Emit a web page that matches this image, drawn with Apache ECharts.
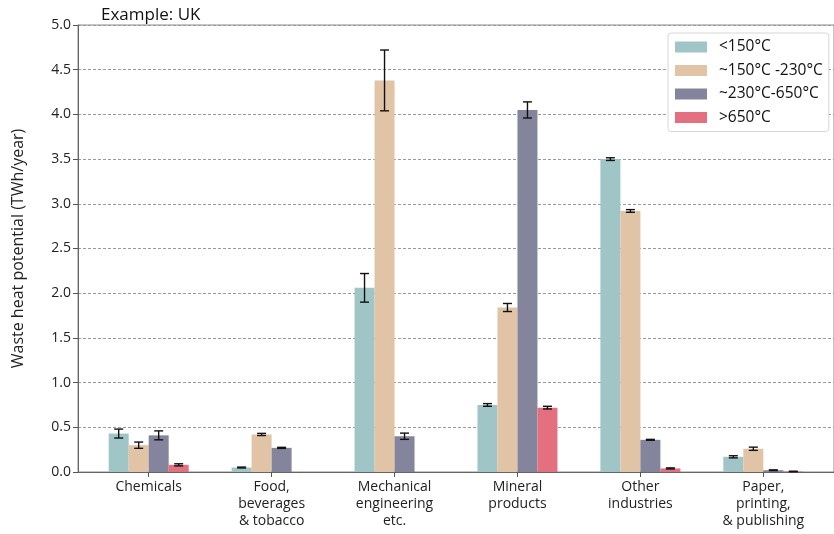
<!DOCTYPE html>
<html><head><meta charset="utf-8">
<script src="https://cdn.jsdelivr.net/npm/echarts@6/dist/echarts.min.js"></script>
<style>html,body{margin:0;padding:0;background:#fff}#c{width:834px;height:534px}</style>
</head><body><div id="c"></div>
<script>
const categories = ['Chemicals', 'Food,\nbeverages\n& tobacco', 'Mechanical\nengineering\netc.', 'Mineral\nproducts', 'Other\nindustries', 'Paper,\nprinting,\n& publishing'];
const seriesNames = ['<150°C', '~150°C -230°C', '~230°C-650°C', '>650°C'];
const below150 = [0.43, 0.05, 2.06, 0.75, 3.50, 0.17];
const mid150_230 = [0.30, 0.42, 4.38, 1.84, 2.92, 0.26];
const mid230_650 = [0.41, 0.27, 0.40, 4.05, 0.36, 0.02];
const above650 = [0.08, 0, 0, 0.72, 0.04, 0.006];
const err150 = [0.05, 0.005, 0.16, 0.015, 0.015, 0.012];
const err150_230 = [0.035, 0.012, 0.34, 0.045, 0.015, 0.018];
const err230_650 = [0.05, 0.006, 0.035, 0.09, 0.005, 0.004];
const err650 = [0.012, 0, 0, 0.015, 0.006, 0.003];
const yTicks = [0, 0.5, 1, 1.5, 2, 2.5, 3, 3.5, 4, 4.5, 5];

const colors = ['#a0c5c7', '#e0c4a5', '#85849d', '#e36f7f'];
const values = [below150, mid150_230, mid230_650, above650];
const errs = [err150, err150_230, err230_650, err650];
const BAR_W = 20;

const chart = echarts.init(document.getElementById('c'), null, {renderer: 'canvas'});
const barSeries = values.map((arr, s) => ({
  name: seriesNames[s], type: 'bar', barWidth: BAR_W, barGap: '0%',
  itemStyle: {color: colors[s]},
  data: arr.map((v, i) => [i, v]), z: 2
}));
const errSeries = values.map((arr, s) => ({
  type: 'custom', name: 'err' + s, silent: true, z: 5,
  data: arr.map((v, i) => [i, v - errs[s][i], v + errs[s][i], v]).filter(d => d[3] > 0),
  renderItem: function (params, api) {
    const off = (s - 1.5) * BAR_W;
    const lo = api.coord([api.value(0), api.value(1)]);
    const hi = api.coord([api.value(0), api.value(2)]);
    const x = lo[0] + off;
    const cap = 4.5;
    const st = {stroke: '#111', lineWidth: 1.4};
    return {type: 'group', children: [
      {type: 'line', shape: {x1: x, y1: lo[1], x2: x, y2: hi[1]}, style: st},
      {type: 'line', shape: {x1: x - cap, y1: lo[1], x2: x + cap, y2: lo[1]}, style: st},
      {type: 'line', shape: {x1: x - cap, y1: hi[1], x2: x + cap, y2: hi[1]}, style: st}
    ]};
  },
  encode: {x: 0, y: [1, 2]}
}));

chart.setOption({
  animation: false,
  textStyle: {fontFamily: 'Open Sans'},
  title: {text: 'Example: UK', left: 96, top: 2, textStyle: {fontFamily: 'Open Sans', fontWeight: 'normal', fontSize: 17, color: '#111'}},
  grid: {left: 78, right: -7, top: 25, bottom: 62, show: true, borderColor: '#8a8a8a', borderWidth: 1},
  legend: {
    orient: 'vertical', left: 668, top: 33, data: seriesNames,
    itemWidth: 32, itemHeight: 11, itemGap: 7.5,
    padding: [6, 6, 6, 7],
    backgroundColor: '#fff', borderColor: '#d6d6d6', borderWidth: 1, borderRadius: 3,
    textStyle: {fontFamily: 'Open Sans', fontSize: 15.5, color: '#111', padding: [0, 0, 0, 7]},
    icon: 'rect'
  },
  xAxis: {
    type: 'value', min: -0.575, max: 5.575,
    axisLine: {show: true, onZero: false, lineStyle: {color: '#666'}},
    axisTick: {show: true, customValues: [0, 1, 2, 3, 4, 5], length: 5, lineStyle: {color: '#555'}},
    axisLabel: {customValues: [0, 1, 2, 3, 4, 5], formatter: v => categories[Math.round(v)], fontSize: 14, color: '#222', lineHeight: 17, margin: 7, fontFamily: 'Liberation Sans Narrow, Open Sans'},
    splitLine: {show: false}
  },
  yAxis: {
    type: 'value', min: 0, max: 5, interval: 0.5,
    name: 'Waste heat potential (TWh/year)', nameLocation: 'middle', nameGap: 52,
    nameTextStyle: {fontSize: 16, color: '#222', fontFamily: 'Open Sans'},
    axisLine: {show: true, onZero: false, lineStyle: {color: '#666'}},
    axisTick: {show: true, length: 5, lineStyle: {color: '#555'}},
    axisLabel: {formatter: v => v.toFixed(1), fontSize: 14, color: '#222', margin: 7},
    splitLine: {show: true, lineStyle: {type: [3, 2], color: '#9a9a9a', width: 1}}
  },
  series: barSeries.concat(errSeries)
});
</script></body></html>
